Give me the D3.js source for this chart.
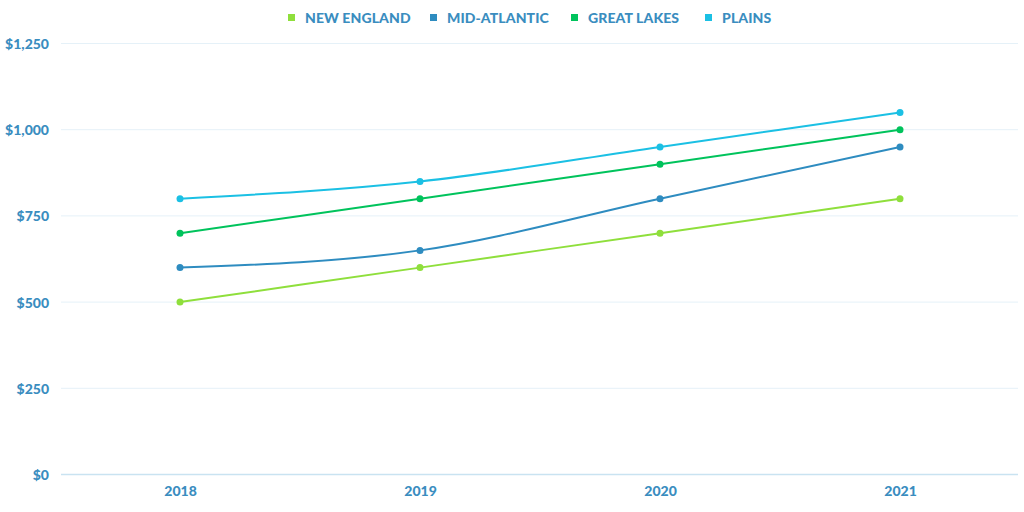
<!DOCTYPE html>
<html><head><meta charset="utf-8">
<script src="https://cdn.jsdelivr.net/npm/d3@7"></script>
<style>body{margin:0;background:#fff}svg{display:block}</style>
</head><body><svg id="c" width="1024" height="512"></svg>
<script>
const years = ["2018","2019","2020","2021"];
const seriesNames = ["NEW ENGLAND","MID-ATLANTIC","GREAT LAKES","PLAINS"];
const seriesColors = ["#8fdf3c","#2e8cc0","#00c35c","#1bc0e4"];
const newEngland = [500,600,700,800];
const midAtlantic = [600,650,800,950];
const greatLakes = [700,800,900,1000];
const plains = [800,850,950,1050];
const yTicks = [0,250,500,750,1000,1250];
const seriesValues = [newEngland, midAtlantic, greatLakes, plains];

const svg = d3.select("#c");
const font = "Lato, 'Open Sans', sans-serif";
const textColor = "#3a8dbf";
const x = d3.scalePoint().domain(years).range([60,1020]).padding(0.5);
const y = d3.scaleLinear().domain([0,1250]).range([474.5,43.5]);

// grid
svg.append("g").selectAll("line").data(yTicks).join("line")
  .attr("x1",61).attr("x2",1018)
  .attr("y1",d=>y(d)).attr("y2",d=>y(d))
  .attr("stroke",d=>d===0?"#c9e3f1":"#e5f1f8").attr("stroke-width",d=>d===0?1.5:1);

const yAxis = svg.append("g").attr("transform","translate(49,0)")
  .call(d3.axisLeft(y).tickValues(yTicks).tickSize(0).tickPadding(0).tickFormat(d=>"$"+d3.format(",")(d)));
yAxis.select(".domain").remove();
yAxis.selectAll("text").attr("fill",textColor).attr("font-family",font).attr("font-weight","900").attr("font-size",14).attr("dy","0.35em");

const xAxis = svg.append("g").attr("transform","translate(0,491)")
  .call(d3.axisBottom(x).tickSize(0).tickPadding(0));
xAxis.select(".domain").remove();
xAxis.selectAll("text").attr("fill",textColor).attr("font-family",font).attr("font-weight","900").attr("font-size",14).attr("dy","0.35em");

const line = d3.line().x((d,i)=>x(years[i])).y(d=>y(d)).curve(d3.curveMonotoneX);
seriesValues.forEach((vals,k)=>{
  svg.append("path").attr("d",line(vals)).attr("fill","none").attr("stroke",seriesColors[k]).attr("stroke-width",2);
  svg.append("g").selectAll("circle").data(vals).join("circle")
    .attr("cx",(d,i)=>x(years[i])).attr("cy",d=>y(d)).attr("r",3.5).attr("fill",seriesColors[k]);
});

// legend
const legendX = [288,430,571,705];
const lg = svg.append("g");
seriesNames.forEach((n,k)=>{
  lg.append("rect").attr("x",legendX[k]).attr("y",14).attr("width",7).attr("height",7).attr("fill",seriesColors[k]);
  lg.append("text").attr("x",legendX[k]+17).attr("y",18).attr("dy","0.35em")
    .attr("fill",textColor).attr("font-family",font).attr("font-weight","900").attr("font-size",14)
    .attr("letter-spacing","0.1px").text(n);
});
</script></body></html>
